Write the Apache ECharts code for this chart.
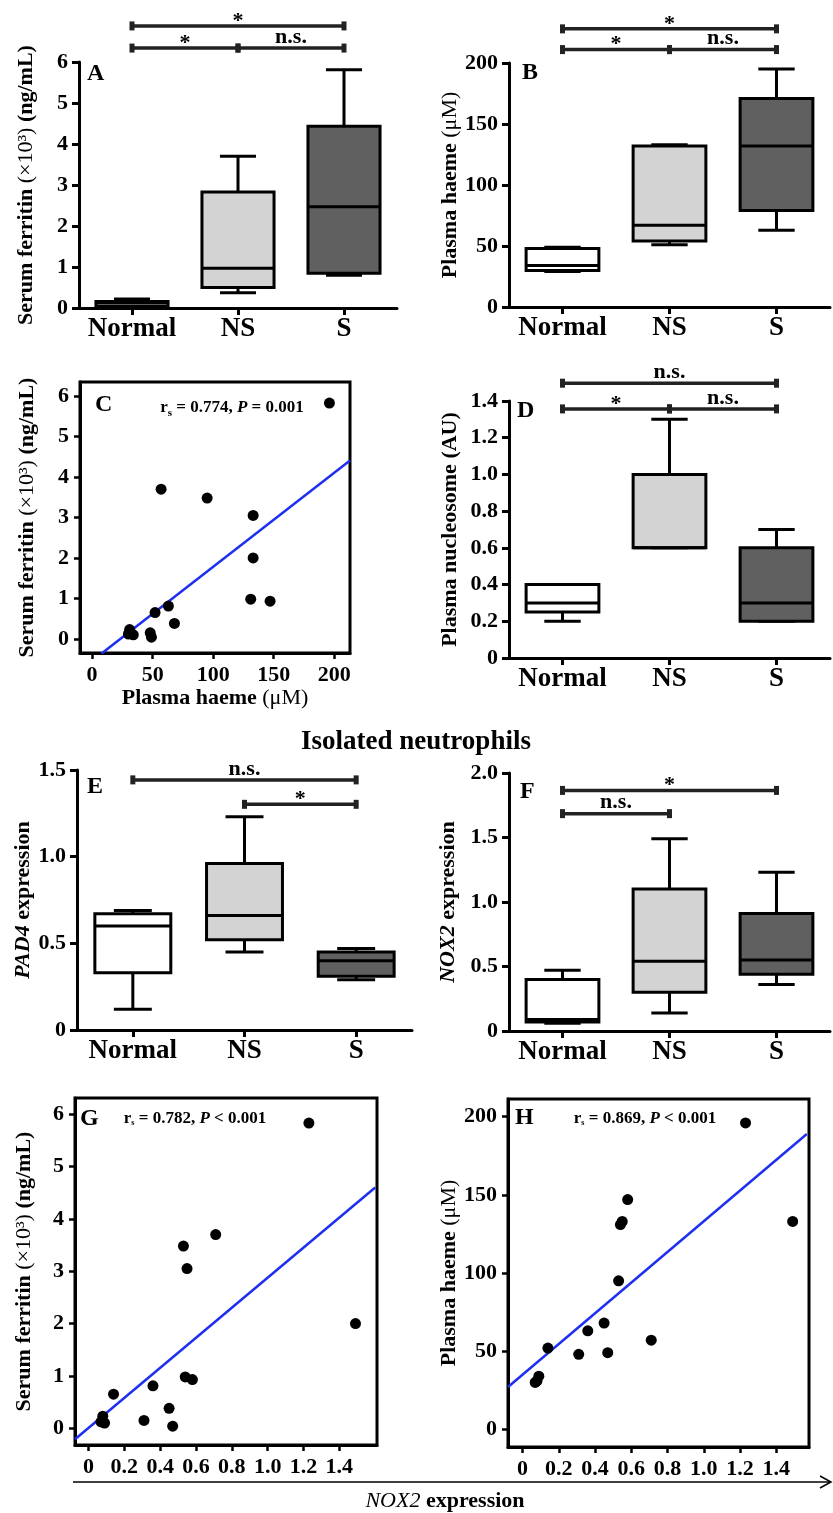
<!DOCTYPE html>
<html>
<head>
<meta charset="utf-8">
<script src="https://cdn.jsdelivr.net/npm/echarts@6/dist/echarts.min.js"></script>
<style>
  html, body { margin: 0; background: #fff; }
  #chart { width: 833px; height: 1513px; }
</style>
</head>
<body>
<div id="chart"></div>
<script>
const groups = ['Normal', 'NS', 'S']
const boxFill = ['#ffffff', '#d3d3d3', '#606060']

// [min, Q1, median, Q3, max] for Normal, NS, S
const ferritinBox = [[0.02, 0.04, 0.12, 0.16, 0.22], [0.37, 0.5, 0.97, 2.83, 3.7], [0.8, 0.85, 2.47, 4.43, 5.81]]
const haemeBox = [[29, 30, 34, 48, 49], [51, 54, 67, 132, 133], [63, 79, 132, 171, 195]]
const nucleosomeBox = [[0.2, 0.25, 0.3, 0.4, 0.4], [0.6, 0.6, 0.6, 1.0, 1.3], [0.2, 0.2, 0.3, 0.6, 0.7]]
const pad4Box = [[0.12, 0.33, 0.6, 0.67, 0.69], [0.45, 0.52, 0.66, 0.96, 1.23], [0.29, 0.31, 0.4, 0.45, 0.47]]
const nox2Box = [[0.06, 0.07, 0.09, 0.4, 0.47], [0.14, 0.3, 0.54, 1.1, 1.49], [0.36, 0.44, 0.55, 0.91, 1.23]]

// significance bars: [from group, to group, height, label]
const sigA = [[0, 2, 6.88, '*'], [0, 1, 6.34, '*'], [1, 2, 6.34, 'n.s.']]
const sigB = [[0, 2, 228, '*'], [0, 1, 211, '*'], [1, 2, 211, 'n.s.']]
const sigD = [[0, 2, 1.497, 'n.s.'], [0, 1, 1.357, '*'], [1, 2, 1.357, 'n.s.']]
const sigE = [[0, 2, 1.443, 'n.s.'], [1, 2, 1.302, '*']]
const sigF = [[0, 2, 1.865, '*'], [0, 1, 1.685, 'n.s.']]

// one entry per patient
const haeme = [196, 57, 95, 133, 133, 131, 147, 63, 52, 68, 48, 49, 31, 30, 34]
const ferritin = [5.83, 3.70, 3.48, 3.05, 2.00, 0.98, 0.93, 0.81, 0.65, 0.38, 0.15, 0.04, 0.23, 0.12, 0.10]
const nox2 = [1.23, 0.71, 0.53, 0.55, 1.49, 0.54, 0.58, 0.36, 0.14, 0.45, 0.31, 0.47, 0.08, 0.07, 0.09]

// fitted lines, end points
const fitC = [[7.8, -0.36], [213, 4.41]]
const fitG = [[-0.075, -0.21], [1.6, 4.6]]
const fitH = [[-0.08, 27.1], [1.568, 188.9]]

const ferritinTicks = [0, 1, 2, 3, 4, 5, 6]
const haemeTicks = [0, 50, 100, 150, 200]
const noxTicks = [0, 0.2, 0.4, 0.6, 0.8, 1.0, 1.2, 1.4]

const serif = 'Liberation Serif'
const ink = '#000'
const dec = v => v === 0 ? '0' : v.toFixed(1)

const tok = (extra) => Object.assign({ fontFamily: serif, fontSize: 22, fontWeight: 'bold', color: ink }, extra)
const nameRich = {
    b: tok(),
    n: tok({ fontWeight: 'normal' }),
    i: tok({ fontStyle: 'italic' })
}
const ferritinName = '{b|Serum ferritin }{n|(×10³) }{b|(ng/mL)}'
const haemeName = '{b|Plasma haeme }{n|(μM)}'

const grids = [
    { left: 79, top: 62, width: 318, height: 246 },
    { left: 509, top: 63, width: 321, height: 244 },
    { left: 80, top: 382, width: 270, height: 271, show: true, borderColor: ink, borderWidth: 3 },
    { left: 509, top: 401, width: 321, height: 257 },
    { left: 77, top: 770, width: 335, height: 260 },
    { left: 509, top: 773, width: 321, height: 258 },
    { left: 75, top: 1098, width: 302, height: 347, show: true, borderColor: ink, borderWidth: 3 },
    { left: 508, top: 1099, width: 301, height: 348, show: true, borderColor: ink, borderWidth: 3 }
]

const catAxis = (g) => ({
    type: 'category', gridIndex: g, data: groups, boundaryGap: true,
    axisLine: { show: true, onZero: false, lineStyle: { color: ink, width: 3 } },
    axisTick: { show: true, alignWithLabel: true, interval: 0, length: 7, lineStyle: { color: ink, width: 3 } },
    axisLabel: { interval: 0, fontFamily: serif, fontWeight: 'bold', fontSize: 27, color: ink, margin: 8 },
    splitLine: { show: false }
})

const valAxis = (g, o) => {
    const axis = {
        type: 'value', gridIndex: g, min: o.min, max: o.max,
        name: o.name, nameLocation: 'middle', nameGap: o.gap,
        nameTextStyle: { fontFamily: serif, fontSize: 22, fontWeight: 'bold', color: ink, rich: nameRich },
        axisLine: { show: true, onZero: false, lineStyle: { color: ink, width: 3 } },
        axisTick: { show: true, length: o.frame ? 6 : 7, lineStyle: { color: ink, width: o.frame ? 2.5 : 3 } },
        axisLabel: { fontFamily: serif, fontWeight: 'bold', fontSize: 22, color: ink, margin: 11,
            formatter: o.fmt || (v => String(v)) },
        splitLine: { show: false }
    }
    if (o.interval) axis.interval = o.interval
    if (o.ticks) {
        axis.axisTick.customValues = o.ticks
        axis.axisLabel.customValues = o.ticks
    }
    return axis
}

const xAxes = [
    catAxis(0), catAxis(1),
    valAxis(2, { min: -10, max: 213, ticks: haemeTicks, frame: true, name: haemeName, gap: 34 }),
    catAxis(3), catAxis(4), catAxis(5),
    valAxis(6, { min: -0.075, max: 1.61, ticks: noxTicks, frame: true, fmt: dec }),
    valAxis(7, { min: -0.08, max: 1.58, ticks: noxTicks, frame: true, fmt: dec })
]
const yAxes = [
    valAxis(0, { min: 0, max: 6, interval: 1, name: ferritinName, gap: 42 }),
    valAxis(1, { min: 0, max: 200, interval: 50, name: haemeName, gap: 47 }),
    valAxis(2, { min: -0.35, max: 6.35, ticks: ferritinTicks, frame: true, name: ferritinName, gap: 42 }),
    valAxis(3, { min: 0, max: 1.4, interval: 0.2, name: 'Plasma nucleosome (AU)', gap: 48, fmt: dec }),
    valAxis(4, { min: 0, max: 1.5, interval: 0.5, name: '{i|PAD4}{b| expression}', gap: 42, fmt: dec }),
    valAxis(5, { min: 0, max: 2, interval: 0.5, name: '{i|NOX2}{b| expression}', gap: 50, fmt: dec }),
    valAxis(6, { min: -0.32, max: 6.31, ticks: ferritinTicks, frame: true, name: ferritinName, gap: 40 }),
    valAxis(7, { min: -11.3, max: 211.3, ticks: haemeTicks, frame: true, name: haemeName, gap: 47 })
]

const seg = (x1, y1, x2, y2, w) => ({ type: 'line', shape: { x1, y1, x2, y2 }, style: { stroke: ink, lineWidth: w || 3 } })

function boxItem(params, api) {
    const i = api.value(0)
    const y = k => api.coord([i, api.value(k)])[1]
    const x = api.coord([i, api.value(1)])[0]
    const w = api.size([1, 0])[0] * 0.68
    const cap = w / 4
    return {
        type: 'group',
        children: [
            seg(x, y(5), x, y(4)), seg(x - cap, y(5), x + cap, y(5)),
            seg(x, y(2), x, y(1)), seg(x - cap, y(1), x + cap, y(1)),
            { type: 'rect', shape: { x: x - w / 2, y: y(4), width: w, height: y(2) - y(4) },
              style: { fill: boxFill[i], stroke: ink, lineWidth: 3 } },
            seg(x - w / 2, y(3), x + w / 2, y(3))
        ]
    }
}

const sigItem = list => (params, api) => {
    const a = api.coord([api.value(0), api.value(2)])
    const b = api.coord([api.value(1), api.value(2)])
    const label = list[params.dataIndex][3]
    const star = label === '*'
    const endCap = x => ({ type: 'rect', shape: { x: x - 2.5, y: a[1] - 4.5, width: 5, height: 9 }, style: { fill: '#222' } })
    return {
        type: 'group',
        children: [
            { type: 'line', shape: { x1: a[0], y1: a[1], x2: b[0], y2: b[1] }, style: { stroke: '#222', lineWidth: 3.5 } },
            endCap(a[0]), endCap(b[0]),
            { type: 'text', x: (a[0] + b[0]) / 2, y: a[1] + (star ? 6 : 0),
              style: { text: label, fill: ink, font: 'bold 22px "Liberation Serif"', align: 'center', verticalAlign: 'bottom' } }
        ]
    }
}

const boxPanels = [[0, ferritinBox, sigA], [1, haemeBox, sigB], [3, nucleosomeBox, sigD], [4, pad4Box, sigE], [5, nox2Box, sigF]]
const series = []
boxPanels.forEach(([g, box, sig]) => {
    series.push({
        type: 'custom', xAxisIndex: g, yAxisIndex: g, renderItem: boxItem, clip: false,
        encode: { x: 0, y: [1, 2, 3, 4, 5] },
        data: box.map((b, i) => [i, ...b])
    })
    series.push({
        type: 'custom', xAxisIndex: g, yAxisIndex: g, renderItem: sigItem(sig), clip: false,
        encode: { x: [0, 1], y: 2 },
        data: sig.map(s => [s[0], s[1], s[2]])
    })
})

const scatterPanels = [
    [2, haeme.map((h, i) => [h, ferritin[i]]), fitC],
    [6, nox2.map((n, i) => [n, ferritin[i]]), fitG],
    [7, nox2.map((n, i) => [n, haeme[i]]), fitH]
]
scatterPanels.forEach(([g, pts, fit]) => {
    series.push({
        type: 'line', xAxisIndex: g, yAxisIndex: g, data: fit, showSymbol: false,
        lineStyle: { color: '#1f2ff0', width: 2.5 }, z: 2
    })
    series.push({
        type: 'scatter', xAxisIndex: g, yAxisIndex: g, data: pts, symbolSize: 11,
        itemStyle: { color: ink, opacity: 1 }, z: 3
    })
})

const letters = [['A', 87, 74], ['B', 522, 73], ['C', 95, 405], ['D', 517, 411], ['E', 87, 787], ['F', 520, 792], ['G', 80, 1119], ['H', 515, 1118]]
const corr = [
    ['0.774', '=', '0.001', 232, 408, 11],
    ['0.782', '<', '0.001', 195, 1119, 8],
    ['0.869', '<', '0.001', 645, 1119, 8]
]
const graphic = letters.map(([t, x, y]) => ({
    type: 'text', x, y,
    style: { text: t, fill: ink, font: 'bold 24px "Liberation Serif"', verticalAlign: 'middle' }
}))
corr.forEach(([r, op, p, x, y, sub]) => {
    graphic.push({
        type: 'text', x, y,
        style: {
            text: `{b|r}{s|s}{b| = ${r}, }{i|P}{b| ${op} ${p}}`,
            align: 'center', verticalAlign: 'middle',
            rich: {
                b: { fontFamily: serif, fontWeight: 'bold', fontSize: 17, fill: ink, lineHeight: 20 },
                i: { fontFamily: serif, fontWeight: 'bold', fontStyle: 'italic', fontSize: 17, fill: ink, lineHeight: 20 },
                s: { fontFamily: serif, fontWeight: 'bold', fontSize: sub, fill: ink, lineHeight: 20, padding: [sub, 0, 0, 0] }
            }
        }
    })
})
graphic.push({
    type: 'text', x: 416, y: 742,
    style: { text: 'Isolated neutrophils', fill: ink, font: 'bold 27px "Liberation Serif"', align: 'center', verticalAlign: 'middle' }
})
graphic.push({ type: 'line', shape: { x1: 73, y1: 1482, x2: 831, y2: 1482 }, style: { stroke: ink, lineWidth: 1.5 } })
graphic.push({ type: 'polyline', shape: { points: [[820, 1476], [831, 1482], [820, 1488]] }, style: { stroke: ink, lineWidth: 1.5, fill: null } })
graphic.push({
    type: 'text', x: 445, y: 1501,
    style: {
        text: '{i|NOX2}{b| expression}', align: 'center', verticalAlign: 'middle',
        rich: {
            i: { fontFamily: serif, fontStyle: 'italic', fontSize: 22, fill: ink },
            b: { fontFamily: serif, fontWeight: 'bold', fontSize: 22, fill: ink }
        }
    }
})

const chart = echarts.init(document.getElementById('chart'))
chart.setOption({
    backgroundColor: '#fff',
    animation: false,
    grid: grids,
    xAxis: xAxes,
    yAxis: yAxes,
    series,
    graphic
})
</script>
</body>
</html>
